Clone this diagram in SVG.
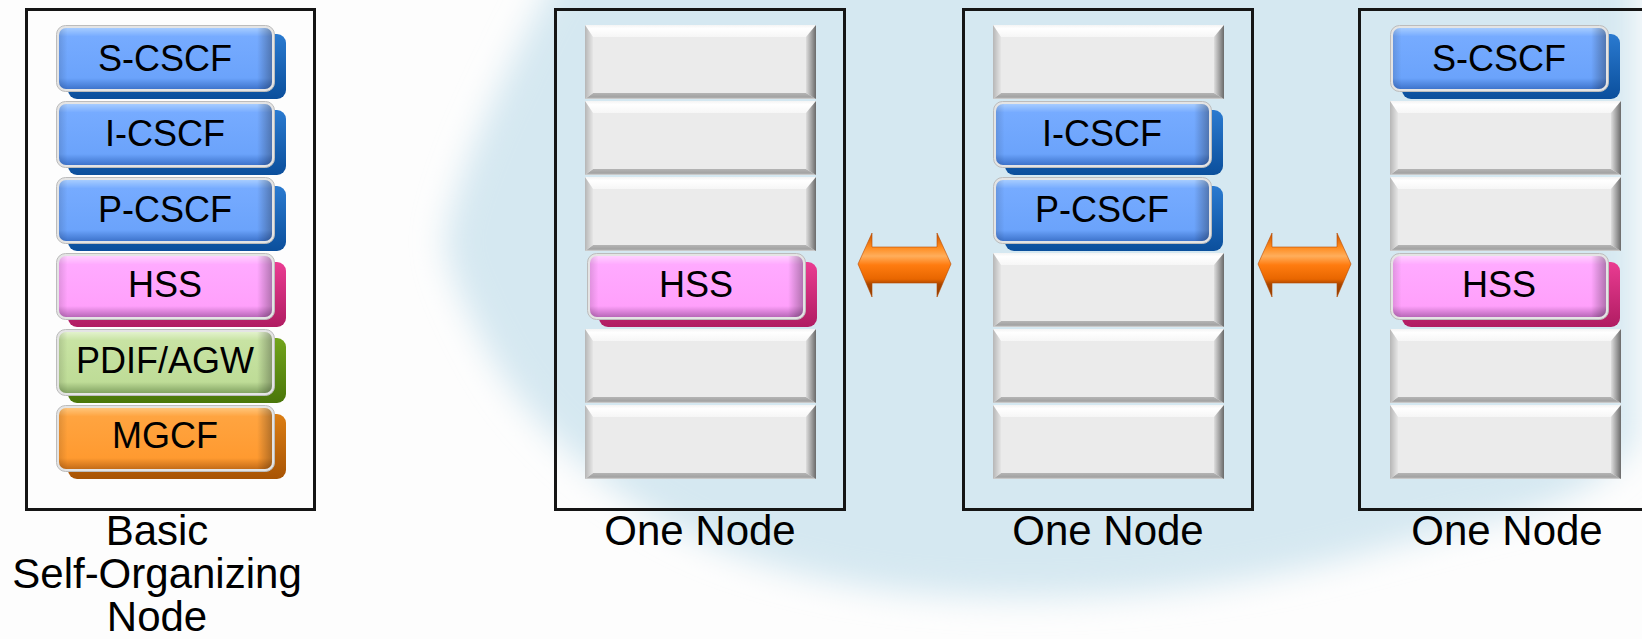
<svg xmlns="http://www.w3.org/2000/svg" xmlns:xlink="http://www.w3.org/1999/xlink" width="1642" height="639" viewBox="0 0 1642 639">
<style>
.lbl{font-family:"Liberation Sans",Arial,sans-serif;font-size:36px;text-anchor:middle;fill:#000}
.cap{font-family:"Liberation Sans",Arial,sans-serif;font-size:42px;text-anchor:middle;fill:#000}
.frame{fill:none;stroke:#151515;stroke-width:3}
.arrow{fill:url(#arrowG);stroke:#b84a00;stroke-width:0.6}
</style>
<defs>
<filter id="soft" x="-20%" y="-20%" width="140%" height="140%"><feGaussianBlur stdDeviation="16"/></filter>
<linearGradient id="gTop" x1="0" y1="0" x2="0" y2="1"><stop offset="0" stop-color="#f4f4f4"/><stop offset="0.3" stop-color="#ffffff"/><stop offset="1" stop-color="#f6f6f6"/></linearGradient>
<linearGradient id="gBot" x1="0" y1="0" x2="0" y2="1"><stop offset="0" stop-color="#b4b4b4"/><stop offset="0.7" stop-color="#a2a2a2"/><stop offset="1" stop-color="#d8d8d8"/></linearGradient>
<linearGradient id="gRight" x1="0" y1="0" x2="1" y2="0"><stop offset="0" stop-color="#dedede"/><stop offset="0.6" stop-color="#9a9a9a"/><stop offset="1" stop-color="#6a6a6a"/></linearGradient>
<linearGradient id="gLeft" x1="0" y1="0" x2="1" y2="0"><stop offset="0" stop-color="#b6b6b6"/><stop offset="1" stop-color="#e6e6e6"/></linearGradient>
<linearGradient id="edgeH" x1="0" y1="0" x2="1" y2="0"><stop offset="0" stop-color="#000" stop-opacity="0.12"/><stop offset="0.04" stop-color="#000" stop-opacity="0"/><stop offset="0.93" stop-color="#000" stop-opacity="0"/><stop offset="1" stop-color="#000" stop-opacity="0.3"/></linearGradient>
<linearGradient id="blueF" x1="0" y1="0" x2="0" y2="1"><stop offset="0" stop-color="#a6ccff"/><stop offset="0.14" stop-color="#76abff"/><stop offset="0.82" stop-color="#6ba3fb"/><stop offset="1" stop-color="#3e74cc"/></linearGradient>
<linearGradient id="blueS" x1="0" y1="0" x2="0" y2="1"><stop offset="0" stop-color="#2a7ad0"/><stop offset="1" stop-color="#0b4f9c"/></linearGradient>
<linearGradient id="pinkF" x1="0" y1="0" x2="0" y2="1"><stop offset="0" stop-color="#ffd0ff"/><stop offset="0.14" stop-color="#ffaaff"/><stop offset="0.82" stop-color="#ffa0fb"/><stop offset="1" stop-color="#b868b8"/></linearGradient>
<linearGradient id="pinkS" x1="0" y1="0" x2="0" y2="1"><stop offset="0" stop-color="#ea3c92"/><stop offset="1" stop-color="#b01c62"/></linearGradient>
<linearGradient id="greenF" x1="0" y1="0" x2="0" y2="1"><stop offset="0" stop-color="#e2f2cc"/><stop offset="0.14" stop-color="#c8e3a3"/><stop offset="0.82" stop-color="#bedc97"/><stop offset="1" stop-color="#84a464"/></linearGradient>
<linearGradient id="greenS" x1="0" y1="0" x2="0" y2="1"><stop offset="0" stop-color="#72a41c"/><stop offset="1" stop-color="#4a760a"/></linearGradient>
<linearGradient id="orangeF" x1="0" y1="0" x2="0" y2="1"><stop offset="0" stop-color="#ffc57a"/><stop offset="0.14" stop-color="#ffa440"/><stop offset="0.82" stop-color="#ff9a30"/><stop offset="1" stop-color="#c46c18"/></linearGradient>
<linearGradient id="orangeS" x1="0" y1="0" x2="0" y2="1"><stop offset="0" stop-color="#dc7e14"/><stop offset="1" stop-color="#a85404"/></linearGradient>
<linearGradient id="arrowG" gradientUnits="userSpaceOnUse" x1="0" y1="233" x2="0" y2="297"><stop offset="0" stop-color="#c85200"/><stop offset="0.22" stop-color="#ff8a1c"/><stop offset="0.36" stop-color="#ffae5c"/><stop offset="0.5" stop-color="#ff7c10"/><stop offset="0.72" stop-color="#e86600"/><stop offset="0.8" stop-color="#a84600"/><stop offset="1" stop-color="#8a3a00"/></linearGradient>

<g id="grey">
<rect x="0" y="0" width="231" height="74" fill="#ebebeb"/>
<polygon points="0,0 231,0 221,12 8,12" fill="url(#gTop)"/>
<polygon points="0,74 231,74 221,68 8,68" fill="url(#gBot)"/>
<polygon points="231,0 231,74 221,68 221,12" fill="url(#gRight)"/>
<polygon points="0,0 0,74 8,68 8,12" fill="url(#gLeft)"/>
</g>
<g id="blue">
<rect x="12" y="9" width="218" height="65" rx="9" fill="url(#blueS)"/>
<rect x="0.5" y="0.5" width="218" height="66" rx="9" fill="#e4e4e4" stroke="#bcbcbc" stroke-width="1"/>
<rect x="3" y="3" width="213" height="61" rx="7" fill="url(#blueF)"/>
<rect x="3" y="3" width="213" height="61" rx="7" fill="url(#edgeH)"/>
</g>
<g id="pink">
<rect x="12" y="9" width="218" height="65" rx="9" fill="url(#pinkS)"/>
<rect x="0.5" y="0.5" width="218" height="66" rx="9" fill="#e4e4e4" stroke="#bcbcbc" stroke-width="1"/>
<rect x="3" y="3" width="213" height="61" rx="7" fill="url(#pinkF)"/>
<rect x="3" y="3" width="213" height="61" rx="7" fill="url(#edgeH)"/>
</g>
<g id="green">
<rect x="12" y="9" width="218" height="65" rx="9" fill="url(#greenS)"/>
<rect x="0.5" y="0.5" width="218" height="66" rx="9" fill="#e4e4e4" stroke="#bcbcbc" stroke-width="1"/>
<rect x="3" y="3" width="213" height="61" rx="7" fill="url(#greenF)"/>
<rect x="3" y="3" width="213" height="61" rx="7" fill="url(#edgeH)"/>
</g>
<g id="orange">
<rect x="12" y="9" width="218" height="65" rx="9" fill="url(#orangeS)"/>
<rect x="0.5" y="0.5" width="218" height="66" rx="9" fill="#e4e4e4" stroke="#bcbcbc" stroke-width="1"/>
<rect x="3" y="3" width="213" height="61" rx="7" fill="url(#orangeF)"/>
<rect x="3" y="3" width="213" height="61" rx="7" fill="url(#edgeH)"/>
</g>
</defs>

<rect x="0" y="0" width="1642" height="639" fill="#fdfdfd"/>
<path id="backdrop" d="M445,240 C458,170 500,80 565,-40 L1636,-40 L1636,440 C1610,485 1550,510 1460,528 C1380,548 1300,578 1150,592 C950,608 820,588 720,548 C620,508 525,425 485,345 C462,300 448,270 445,240 Z" fill="#d5e8f1" filter="url(#soft)"/>

<g id="basic-node">
<rect class="frame" x="26.5" y="9.5" width="288" height="500" fill="#fff"/>
<g id="b-scscf"><use xlink:href="#blue" x="56" y="25"/><text class="lbl" x="165" y="71">S-CSCF</text></g>
<g id="b-icscf"><use xlink:href="#blue" x="56" y="101"/><text class="lbl" x="165" y="146">I-CSCF</text></g>
<g id="b-pcscf"><use xlink:href="#blue" x="56" y="177"/><text class="lbl" x="165" y="222">P-CSCF</text></g>
<g id="b-hss"><use xlink:href="#pink" x="56" y="253"/><text class="lbl" x="165" y="297">HSS</text></g>
<g id="b-pdif"><use xlink:href="#green" x="56" y="329"/><text class="lbl" x="165" y="373">PDIF/AGW</text></g>
<g id="b-mgcf"><use xlink:href="#orange" x="56" y="405"/><text class="lbl" x="165" y="448">MGCF</text></g>
<text class="cap" x="157" y="545">Basic</text>
<text class="cap" x="157" y="588">Self-Organizing</text>
<text class="cap" x="157" y="631">Node</text>
</g>

<g id="node-1">
<rect class="frame" x="555.5" y="9.5" width="289" height="500"/>
<use xlink:href="#grey" x="585" y="25"/>
<use xlink:href="#grey" x="585" y="101"/>
<use xlink:href="#grey" x="585" y="177"/>
<use xlink:href="#grey" x="585" y="329"/>
<use xlink:href="#grey" x="585" y="405"/>
<g id="n1-hss"><use xlink:href="#pink" x="587" y="253"/><text class="lbl" x="696" y="297">HSS</text></g>
<text class="cap" x="700" y="545">One Node</text>
</g>

<g id="node-2">
<rect class="frame" x="963.5" y="9.5" width="289" height="500"/>
<use xlink:href="#grey" x="993" y="25"/>
<use xlink:href="#grey" x="993" y="253"/>
<use xlink:href="#grey" x="993" y="329"/>
<use xlink:href="#grey" x="993" y="405"/>
<g id="n2-icscf"><use xlink:href="#blue" x="993" y="101"/><text class="lbl" x="1102" y="146">I-CSCF</text></g>
<g id="n2-pcscf"><use xlink:href="#blue" x="993" y="177"/><text class="lbl" x="1102" y="222">P-CSCF</text></g>
<text class="cap" x="1108" y="545">One Node</text>
</g>

<g id="node-3">
<rect class="frame" x="1359.5" y="9.5" width="296" height="500"/>
<use xlink:href="#grey" x="1390" y="101"/>
<use xlink:href="#grey" x="1390" y="177"/>
<use xlink:href="#grey" x="1390" y="329"/>
<use xlink:href="#grey" x="1390" y="405"/>
<g id="n3-scscf"><use xlink:href="#blue" x="1390" y="25"/><text class="lbl" x="1499" y="71">S-CSCF</text></g>
<g id="n3-hss"><use xlink:href="#pink" x="1390" y="253"/><text class="lbl" x="1499" y="297">HSS</text></g>
<text class="cap" x="1507" y="545">One Node</text>
</g>

<g id="connectors">
<path class="arrow" d="M858,264 L872,233 L872,247 L937,247 L937,233 L951,264 L937,297 L937,283 L872,283 L872,297 Z"/>
<path class="arrow" d="M1258,264 L1272,233 L1272,247 L1337,247 L1337,233 L1351,264 L1337,297 L1337,283 L1272,283 L1272,297 Z"/>
</g>
</svg>
